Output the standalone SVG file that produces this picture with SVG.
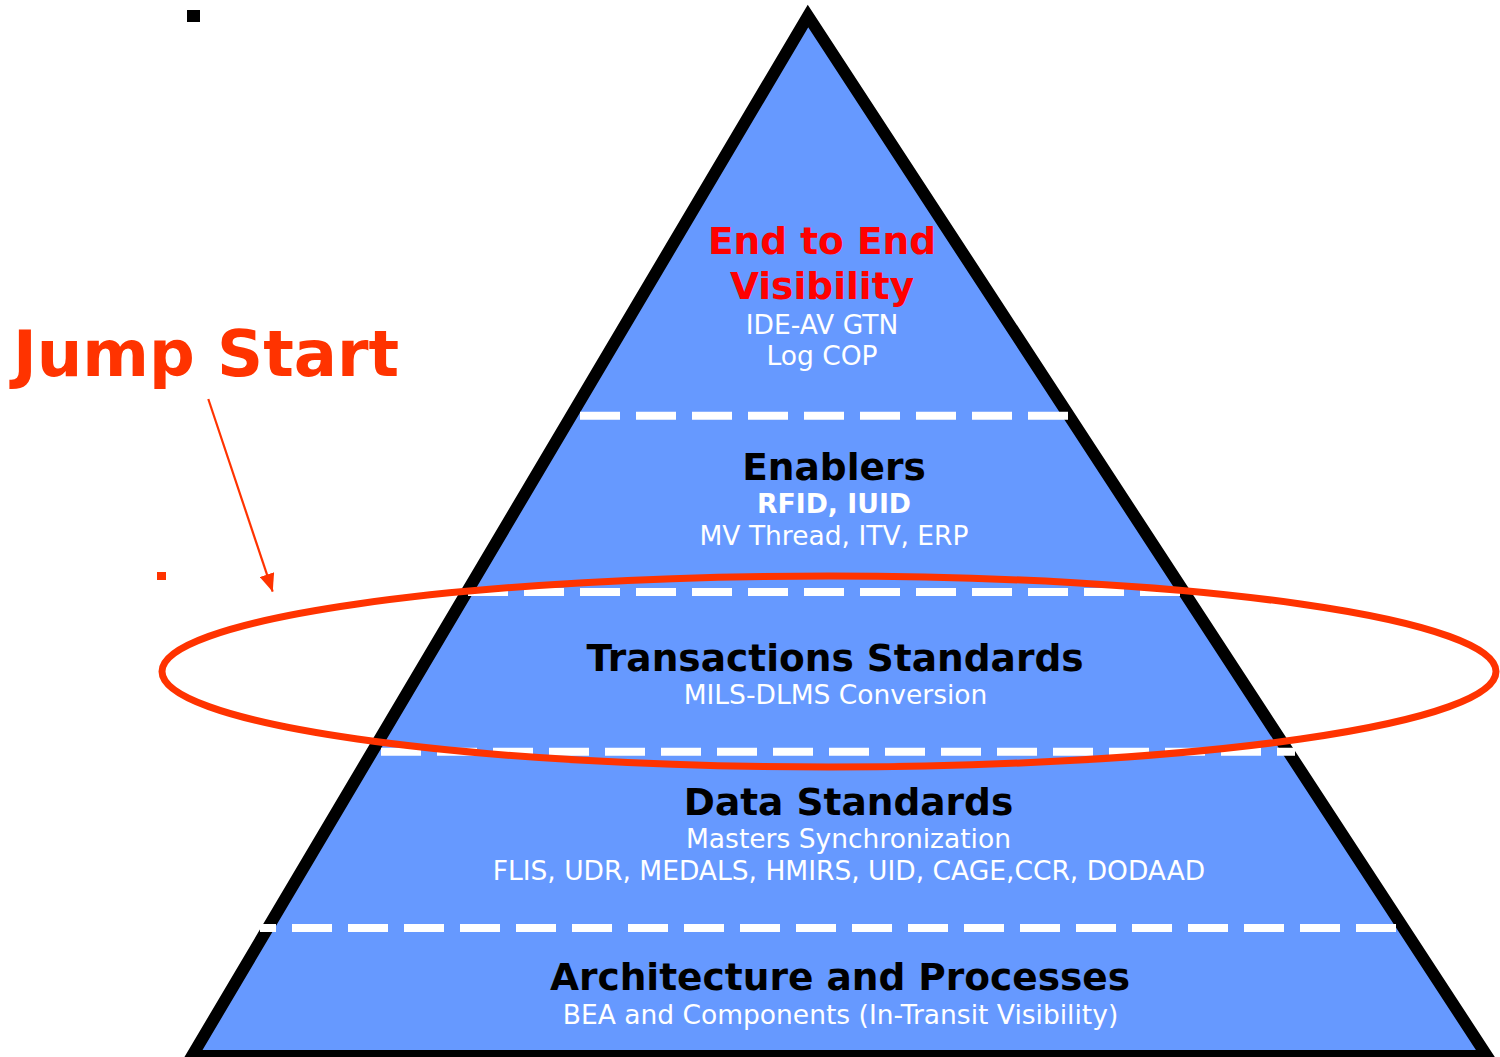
<svg xmlns="http://www.w3.org/2000/svg" width="1500" height="1057" viewBox="0 0 1500 1057">
  <style>
    .t { font-family: "DejaVu Sans", "Liberation Sans", sans-serif; text-anchor: middle; }
    .h { font-weight: bold; font-size: 37.5px; fill: #000000; }
    .s { font-size: 26.5px; fill: #FFFFFF; }
    .sb { font-size: 26.7px; font-weight: bold; fill: #FFFFFF; }
    .red { font-weight: bold; font-size: 37.5px; fill: #FF0000; }
    .dash { stroke: #FFFFFF; stroke-width: 8; stroke-dasharray: 40 16; fill: none; }
  </style>
  <defs>
    <marker id="arrowhead" markerUnits="userSpaceOnUse" markerWidth="18" markerHeight="15" refX="18" refY="7.5" orient="auto">
      <path d="M0,0 L18,7.5 L0,15 Z" fill="#FF3300"/>
    </marker>
  </defs>
  <rect width="1500" height="1057" fill="#FFFFFF"/>

  <g id="pyramid">
    <polygon points="808,16 192,1056 1487,1056" fill="#6699FF" stroke="#000000" stroke-width="12" stroke-linejoin="miter"/>
  </g>

  <g id="dividers">
    <path class="dash" d="M580,415.7 H1068"/>
    <path class="dash" d="M468,592 H1180"/>
    <path class="dash" d="M381,751.7 H1295"/>
    <path class="dash" d="M1396,928 H260"/>
  </g>

  <g id="level-visibility">
    <text class="t red" x="822" y="254">End to End</text>
    <text class="t red" x="822" y="299">Visibility</text>
    <text class="t s" x="822" y="334" font-size="26">IDE-AV GTN</text>
    <text class="t s" x="822" y="365" font-size="26">Log COP</text>
  </g>

  <g id="level-enablers">
    <text class="t h" x="834" y="480">Enablers</text>
    <text class="t sb" x="834" y="513">RFID, IUID</text>
    <text class="t s" x="834" y="545">MV Thread, ITV, ERP</text>
  </g>

  <g id="level-transactions">
    <text class="t h" x="835" y="671">Transactions Standards</text>
    <text class="t s" x="835.5" y="704">MILS-DLMS Conversion</text>
  </g>

  <g id="level-data">
    <text class="t h" x="848.5" y="815">Data Standards</text>
    <text class="t s" x="848.5" y="848">Masters Synchronization</text>
    <text class="t s" x="849" y="880">FLIS, UDR, MEDALS, HMIRS, UID, CAGE,CCR, DODAAD</text>
  </g>

  <g id="level-architecture">
    <text class="t h" x="840" y="990">Architecture and Processes</text>
    <text class="t s" x="840.5" y="1024">BEA and Components (In-Transit Visibility)</text>
  </g>

  <g id="jump-start">
    <text class="t" x="206" y="376" font-size="64" font-weight="bold" fill="#FF3300">Jump Start</text>
  </g>

  <g id="connectors">
    <line x1="208.3" y1="399" x2="272.7" y2="591.7" stroke="#FF3300" stroke-width="2.2" marker-end="url(#arrowhead)"/>
  </g>

  <g id="highlight">
    <ellipse cx="829" cy="671.5" rx="667" ry="95.5" fill="none" stroke="#FF3300" stroke-width="7"/>
  </g>

  <g id="marks">
    <rect x="187" y="10" width="13" height="12" fill="#000000"/>
    <rect x="157" y="572" width="9" height="8" fill="#FF3300"/>
  </g>
</svg>
